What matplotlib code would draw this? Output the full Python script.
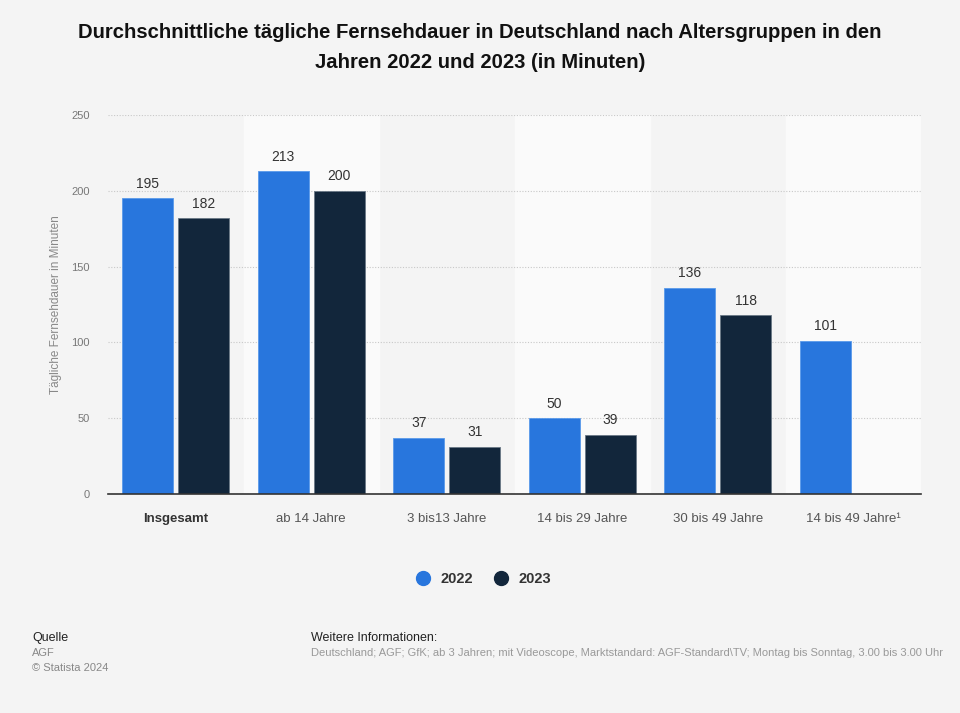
import numpy as np
import matplotlib.pyplot as plt
from matplotlib.lines import Line2D

plt.rcParams['font.family'] = ['Liberation Sans', 'DejaVu Sans']

categories = ["Insgesamt", "ab 14 Jahre", "3 bis13 Jahre", "14 bis 29 Jahre",
              "30 bis 49 Jahre", "14 bis 49 Jahre¹"]
werte_2022 = [195, 213, 37, 50, 136, 101]
werte_2023 = [182, 200, 31, 39, 118, np.nan]

blau = "#2876dd"
dunkel = "#12263b"
bg = "#f4f4f4"

fig = plt.figure(figsize=(9.6, 7.13), dpi=100)
fig.patch.set_facecolor(bg)
ax = fig.add_axes([108 / 960, 1 - 494 / 713, (921 - 108) / 960, (494 - 115) / 713])
ax.set_facecolor(bg)

x = np.arange(len(categories))
# helle Bänder hinter jeder zweiten Kategorie
for i in x:
    if i % 2 == 1:
        ax.axvspan(i - 0.5, i + 0.5, color="#fafafa", zorder=0)

w = 0.376
off = 0.207
ax.bar(x - off, werte_2022, w, color=blau, edgecolor="#5a9aea", linewidth=0.6, zorder=3)
ax.bar(x + off, werte_2023, w, color=dunkel, edgecolor="#6a7886", linewidth=0.6, zorder=3)

for xi, v in zip(x - off, werte_2022):
    if not np.isnan(v):
        ax.text(xi, v + 5, f"{v:.0f}", ha="center", va="bottom", fontsize=10, color="#333333")
for xi, v in zip(x + off, werte_2023):
    if not np.isnan(v):
        ax.text(xi, v + 5, f"{v:.0f}", ha="center", va="bottom", fontsize=10, color="#333333")

ax.set_xlim(-0.5, 5.5)
ax.set_ylim(0, 250)
ax.set_yticks([0, 50, 100, 150, 200, 250])
ax.yaxis.grid(True, linestyle=(0, (1, 1.5)), color="#c8c8c8", linewidth=0.8, zorder=1)
ax.set_axisbelow(True)

for s in ["top", "right", "left"]:
    ax.spines[s].set_visible(False)
ax.spines["bottom"].set_color("#333333")
ax.spines["bottom"].set_linewidth(1.2)
ax.spines["bottom"].set_zorder(4)

ax.tick_params(axis="y", length=0, labelsize=8, labelcolor="#777777", pad=13)
ax.tick_params(axis="x", length=0, labelsize=9.5, labelcolor="#555555", pad=14)
ax.set_xticks(x)
ax.set_xticklabels(categories)
ax.get_xticklabels()[0].set_fontweight("bold")
ax.get_xticklabels()[0].set_color("#333333")

ax.set_ylabel("Tägliche Fernsehdauer in Minuten", fontsize=8.5, color="#888888", labelpad=7)

fig.text(0.5, 1 - 32 / 713, "Durchschnittliche tägliche Fernsehdauer in Deutschland nach Altersgruppen in den",
         ha="center", va="center", fontsize=14.6, fontweight="bold", color="#111111")
fig.text(0.5, 1 - 63 / 713, "Jahren 2022 und 2023 (in Minuten)",
         ha="center", va="center", fontsize=14.6, fontweight="bold", color="#111111")

handles = [Line2D([], [], marker="o", linestyle="", markersize=10, color=blau),
           Line2D([], [], marker="o", linestyle="", markersize=10, color=dunkel)]
leg = fig.legend(handles, ["2022", "2023"], loc="center", bbox_to_anchor=(0.5, 1 - 579 / 713),
                 ncol=2, frameon=False, handletextpad=0.2, columnspacing=0.9,
                 prop={"weight": "bold", "size": 10.5})
for t in leg.get_texts():
    t.set_color("#333333")

fig.text(32 / 960, 1 - 638 / 713, "Quelle", fontsize=9, color="#222222", va="center")
fig.text(32 / 960, 1 - 653 / 713, "AGF", fontsize=8, color="#888888", va="center")
fig.text(32 / 960, 1 - 668 / 713, "© Statista 2024", fontsize=8, color="#888888", va="center")
fig.text(311 / 960, 1 - 638 / 713, "Weitere Informationen:", fontsize=9, color="#222222", va="center")
fig.text(311 / 960, 1 - 653 / 713,
         "Deutschland; AGF; GfK; ab 3 Jahren; mit Videoscope, Marktstandard: AGF-Standard\\TV; Montag bis Sonntag, 3.00 bis 3.00 Uhr",
         fontsize=8, color="#999999", va="center")

fig.savefig("out.png", dpi=100, facecolor=bg)
